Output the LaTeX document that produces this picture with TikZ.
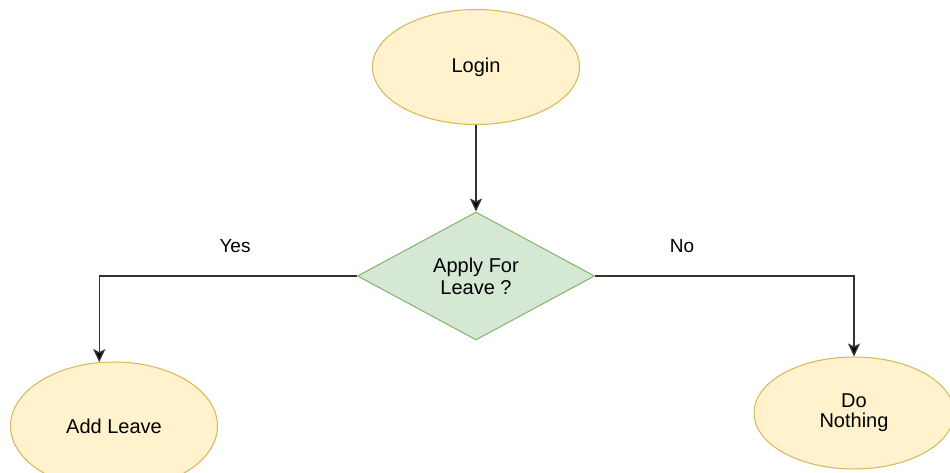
\documentclass[tikz,border=0pt]{standalone}
\usepackage{fontspec}
\setmainfont{Liberation Sans}
\usetikzlibrary{shapes.geometric,arrows.meta}

\definecolor{termfill}{HTML}{FFF2CC}
\definecolor{termline}{HTML}{D6B656}
\definecolor{decfill}{HTML}{D5E8D4}
\definecolor{decline}{HTML}{82B366}
\definecolor{wire}{HTML}{333333}

\tikzset{
  terminal/.style={ellipse, draw=termline, fill=termfill, line width=1pt,
    inner sep=0pt, align=center},
  decision/.style={diamond, draw=decline, fill=decfill, line width=1pt,
    inner sep=0pt, align=center, aspect=1.85,
    minimum width=237pt, minimum height=128pt},
  flow/.style={draw=wire, line width=1.4pt,
    -{Stealth[length=13pt,width=12pt,inset=3pt,fill=black]}},
  branch/.style={font=\fontsize{19}{22}\selectfont}
}

\begin{document}
\begin{tikzpicture}[x=1pt,y=-1pt,font=\fontsize{20}{22}\selectfont]
  \useasboundingbox (0,0) rectangle (950,473);
  \clip (0,0) rectangle (950,473);
  \fill[white] (0,0) rectangle (950,473);

  % nodes of the flow
  \node[terminal, minimum width=207pt, minimum height=115pt] (login) at (476,67) {Login};
  \node[decision] (apply) at (476,276) {Apply For\\Leave ?};
  \node[terminal, minimum width=207pt, minimum height=128pt] (add) at (114,426) {Add Leave};
  \node[terminal, minimum width=200pt, minimum height=112pt] (none) at (854,413) {Do\\[-2pt]Nothing};

  % connectors
  \draw[flow] (login.south) -- (apply.north);
  \draw[flow] (apply.west) -| (add.103);
  \draw[flow] (apply.east) -| (none.north);

  % branch labels
  \node[branch] (yes) at (235,246) {Yes};
  \node[branch] (no) at (682,246) {No};
\end{tikzpicture}
\end{document}
